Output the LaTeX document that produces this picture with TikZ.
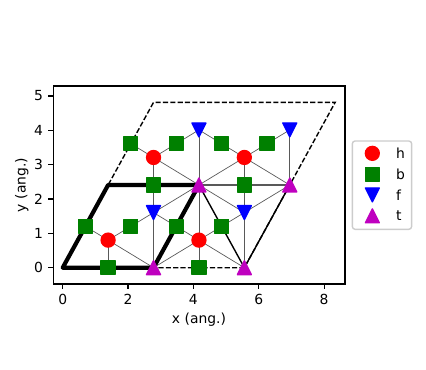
\documentclass[tikz,border=0pt]{standalone}
\usepackage{fontspec}
\setmainfont{DejaVu Sans}
\definecolor{mplr}{rgb}{1,0,0}
\definecolor{mplg}{rgb}{0,0.5,0}
\definecolor{mplb}{rgb}{0,0,1}
\definecolor{mplm}{rgb}{0.75,0,0.75}
\begin{document}
\begin{tikzpicture}[
    x=23.52pt, y=24.72pt,
    every node/.style={font=\fontsize{10}{12}\selectfont, inner sep=0pt},
    bond/.style={black!65, line width=0.5pt},
    edge/.style={black, line width=1pt},
    supercell/.style={black, line width=1pt, dash pattern=on 3.7pt off 1.6pt},
    cell/.style={black, line width=3pt, line join=round},
    frame/.style={black, line width=0.8pt},
    tick/.style={black, line width=0.8pt},
    hmark/.pic={\filldraw[mplr, line width=1pt] (0,0) circle (5pt);},
    bmark/.pic={\filldraw[mplg, line width=1pt, line join=round] (-5pt,-5pt) rectangle (5pt,5pt);},
    fmark/.pic={\filldraw[mplb, line width=1pt, line join=round] (-5pt,5pt) -- (5pt,5pt) -- (0,-5pt) -- cycle;},
    tmark/.pic={\filldraw[mplm, line width=1pt, line join=round] (-5pt,-5pt) -- (5pt,-5pt) -- (0,5pt) -- cycle;},
]
\useasboundingbox (-1.919,-2.979) rectangle (11.12,7.796);

% Sites
\coordinate (o) at (0,0);
\coordinate (c3) at (1.39,2.408);
\coordinate (s1) at (8.34,4.815);
\coordinate (s2) at (2.78,4.815);

\coordinate (t1) at (2.78,0);
\coordinate (t2) at (5.56,0);
\coordinate (t3) at (4.17,2.408);
\coordinate (t4) at (6.95,2.408);

\coordinate (h1) at (1.39,0.803);
\coordinate (h2) at (4.17,0.803);
\coordinate (h3) at (2.78,3.21);
\coordinate (h4) at (5.56,3.21);

\coordinate (f1) at (2.78,1.605);
\coordinate (f2) at (5.56,1.605);
\coordinate (f3) at (4.17,4.013);
\coordinate (f4) at (6.95,4.013);

\coordinate (b1) at (1.39,0);
\coordinate (b2) at (0.695,1.204);
\coordinate (b3) at (2.085,1.204);
\coordinate (b4) at (4.17,0);
\coordinate (b5) at (3.475,1.204);
\coordinate (b6) at (4.865,1.204);
\coordinate (b7) at (2.78,2.408);
\coordinate (b8) at (2.085,3.611);
\coordinate (b9) at (3.475,3.611);
\coordinate (b10) at (5.56,2.408);
\coordinate (b11) at (4.865,3.611);
\coordinate (b12) at (6.255,3.611);

% Bonds
\foreach \u/\v in {h1/b1,h1/b2,h1/b3,h2/b4,h2/b5,h2/b6,h3/b7,h3/b8,h3/b9,h4/b10,h4/b11,h4/b12,
    f1/b3,f1/b5,f1/b7,f2/b6,f2/b10,f3/b9,f3/b11,f4/b12,
    t1/h1,t1/h2,t1/f1,t2/h2,t2/f2,t3/h2,t3/f1,t3/f2,t3/h3,t3/h4,t3/f3,t4/f2,t4/h4,t4/f4}
    \draw[bond] (\u) -- (\v);

% Cells
\draw[supercell] (o) -- (t2) -- (s1) -- (s2) -- cycle;
\draw[edge] (t3) -- (t4) -- (t2) -- cycle;
\draw[cell] (o) -- (t1) -- (t3) -- (c3) -- cycle;

% Markers
\foreach \s in {h1,h2,h3,h4} \pic at (\s) {hmark};
\foreach \s in {b1,b2,b3,b4,b5,b6,b7,b8,b9,b10,b11,b12} \pic at (\s) {bmark};
\foreach \s in {f1,f2,f3,f4} \pic at (\s) {fmark};
\foreach \s in {t1,t2,t3,t4} \pic at (\s) {tmark};

% Axes
\draw[frame] (-0.288,-0.475) rectangle (8.64,5.29);
\foreach \x in {0,2,4,6,8}
    \draw[tick] (\x,-0.475) -- ++(0,-3.5pt) node[anchor=north, yshift=-3.5pt] (xt\x) {\x};
\foreach \y in {0,...,5}
    \draw[tick] (-0.288,\y) -- ++(-3.5pt,0) node[anchor=east, xshift=-3.5pt] (yt\y) {\y};
\node (xlab) at (4.172,-1.523) {x (ang.)};
\node[rotate=90] (ylab) at (-1.255,2.408) {y (ang.)};

% Legend
\draw[black!20, fill=white, line width=1pt, rounded corners=2pt] (8.865,1.118) rectangle (10.68,3.69);
\pic at (9.477,3.33) {hmark};
\pic at (9.477,2.72) {bmark};
\pic at (9.477,2.12) {fmark};
\pic at (9.477,1.51) {tmark};
\node[anchor=west] (lh) at (10.2,3.33) {h};
\node[anchor=west] (lb) at (10.2,2.72) {b};
\node[anchor=west] (lf) at (10.2,2.12) {f};
\node[anchor=west] (lt) at (10.2,1.51) {t};

\end{tikzpicture}
\end{document}
